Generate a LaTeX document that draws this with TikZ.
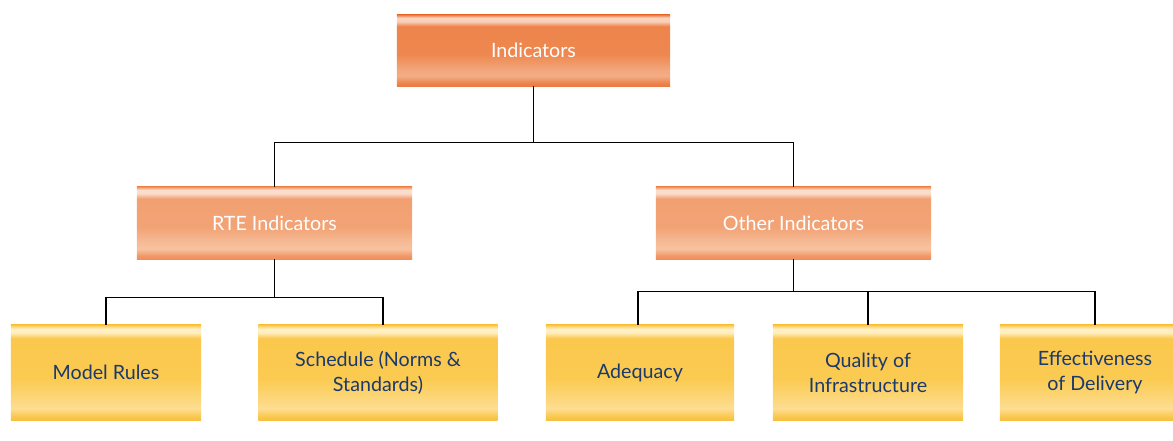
\documentclass[tikz,border=0pt]{standalone}
\usepackage{fontspec}
\setmainfont{Lato}

% glossy bars: the node covers 25bp (bottom edge) to 75bp (top edge)
\pgfdeclareverticalshading{headshade}{100bp}{color(0bp)=(rgb,255:red,235;green,123;blue,69);
  color(25bp)=(rgb,255:red,235;green,123;blue,69);
  color(27bp)=(rgb,255:red,237;green,130;blue,76); color(32bp)=(rgb,255:red,243;green,173;blue,134);
  color(36bp)=(rgb,255:red,242;green,168;blue,126); color(47bp)=(rgb,255:red,238;green,136;blue,80);
  color(67bp)=(rgb,255:red,237;green,132;blue,76);
  color(70.5bp)=(rgb,255:red,250;green,208;blue,186); color(73bp)=(rgb,255:red,250;green,212;blue,190);
  color(75bp)=(rgb,255:red,236;green,128;blue,74); color(100bp)=(rgb,255:red,236;green,128;blue,74)}
\pgfdeclareverticalshading{midshade}{100bp}{color(0bp)=(rgb,255:red,239;green,142;blue,92);
  color(25bp)=(rgb,255:red,239;green,142;blue,92);
  color(27bp)=(rgb,255:red,241;green,150;blue,100); color(32bp)=(rgb,255:red,247;green,194;blue,161);
  color(36bp)=(rgb,255:red,246;green,188;blue,152); color(47bp)=(rgb,255:red,242;green,163;blue,117);
  color(67bp)=(rgb,255:red,242;green,160;blue,114);
  color(70.5bp)=(rgb,255:red,251;green,220;blue,203); color(73bp)=(rgb,255:red,251;green,222;blue,206);
  color(75bp)=(rgb,255:red,240;green,150;blue,100); color(100bp)=(rgb,255:red,240;green,150;blue,100)}
\pgfdeclareverticalshading{leafshade}{100bp}{color(0bp)=(rgb,255:red,248;green,192;blue,67);
  color(25bp)=(rgb,255:red,248;green,192;blue,67);
  color(27bp)=(rgb,255:red,250;green,200;blue,80); color(31bp)=(rgb,255:red,253;green,222;blue,145);
  color(35bp)=(rgb,255:red,252;green,216;blue,128); color(47bp)=(rgb,255:red,251;green,202;blue,80);
  color(68bp)=(rgb,255:red,251;green,200;blue,78);
  color(71bp)=(rgb,255:red,255;green,238;blue,190); color(73bp)=(rgb,255:red,255;green,240;blue,196);
  color(75bp)=(rgb,255:red,250;green,198;blue,76); color(100bp)=(rgb,255:red,250;green,198;blue,76)}

\definecolor{navytext}{RGB}{27,58,107}

\begin{document}
\begin{tikzpicture}[x=0.025cm,y=-0.025cm,
  every node/.style={font=\fontsize{14}{18}\selectfont,align=center},
  headbox/.style={rectangle,shading=headshade,text=white,minimum width=6.825cm,minimum height=1.775cm},
  midbox/.style={rectangle,shading=midshade,text=white,minimum width=6.875cm,minimum height=1.8cm},
  leafbox/.style={rectangle,shading=leafshade,text=navytext,minimum width=4.75cm,minimum height=2.375cm},
  link/.style={line width=1pt,black}]
  \useasboundingbox (0,0) rectangle (1173,441);

  \node[headbox] (indicators) at (533.5,50.5) {Indicators};

  \node[midbox] (rte) at (274.5,223) {RTE Indicators};
  \node[midbox] (other) at (793.5,223) {Other Indicators};

  \node[leafbox] (model) at (106,372.5) {Model Rules};
  \node[leafbox,minimum width=5.975cm] (schedule) at (378,372.5) {Schedule (Norms \&\\ Standards)};
  \node[leafbox,minimum width=4.7cm] (adequacy) at (640,372.5) {Adequacy};
  \node[leafbox] (quality) at (868,372.5) {Quality of\\Infrastructure};
  \node[leafbox] (delivery) at (1095,372.5) {Effectiveness\\of Delivery};

  \draw[link] (indicators.south) -- ++(0,56) -| (rte.north);
  \draw[link] (indicators.south) -- ++(0,56) -| (other.north);

  \draw[link] (rte.south) -- ++(0,38) -| (model.north);
  \draw[link] (rte.south) -- ++(0,38) -| ([xshift=0.125cm]schedule.north);

  \draw[link] (other.south) -- ++(0,32) -| ([xshift=-0.05cm]adequacy.north);
  \draw[link] (other.south) -- ++(0,32) -| (quality.north);
  \draw[link] (other.south) -- ++(0,32) -| (delivery.north);
\end{tikzpicture}
\end{document}
